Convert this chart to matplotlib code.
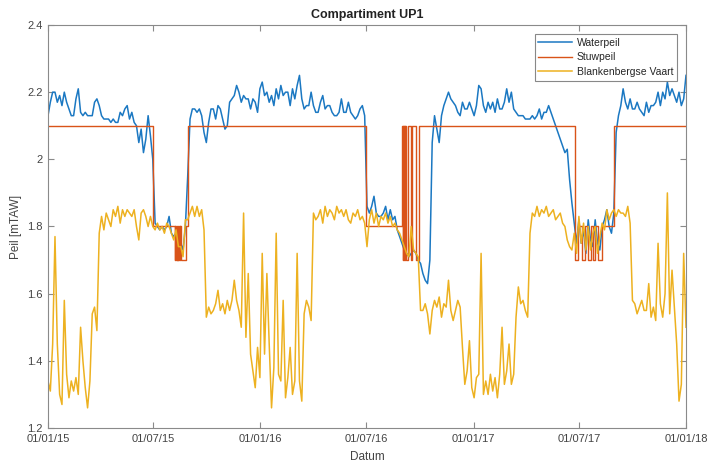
import numpy as np
import pandas as pd
import matplotlib
matplotlib.use('Agg')
import matplotlib.pyplot as plt
import matplotlib.dates as mdates

plt.rcParams['font.family'] = ['Liberation Sans', 'DejaVu Sans']

start_date = '2015-01-01'
step = '4D'

waterpeil = [
    2.13, 2.17, 2.20, 2.20, 2.17, 2.19, 2.16, 2.20, 2.17, 2.15,
    2.13, 2.13, 2.18, 2.21, 2.14, 2.13, 2.14, 2.13, 2.13, 2.13,
    2.17, 2.18, 2.16, 2.13, 2.12, 2.12, 2.12, 2.11, 2.12, 2.11,
    2.11, 2.14, 2.13, 2.15, 2.16, 2.12, 2.14, 2.11, 2.10, 2.05,
    2.09, 2.02, 2.06, 2.13, 2.07, 2.00, 1.81, 1.80, 1.79, 1.80,
    1.79, 1.80, 1.83, 1.78, 1.77, 1.78, 1.74, 1.75, 1.73, 1.80,
    1.95, 2.12, 2.15, 2.15, 2.14, 2.15, 2.13, 2.08, 2.05, 2.11,
    2.15, 2.15, 2.12, 2.16, 2.15, 2.12, 2.09, 2.10, 2.17, 2.18,
    2.19, 2.22, 2.20, 2.17, 2.19, 2.18, 2.18, 2.15, 2.18, 2.17,
    2.14, 2.21, 2.23, 2.19, 2.20, 2.17, 2.19, 2.16, 2.21, 2.18,
    2.22, 2.19, 2.20, 2.20, 2.16, 2.21, 2.18, 2.22, 2.25, 2.18,
    2.15, 2.16, 2.16, 2.20, 2.16, 2.14, 2.14, 2.17, 2.19, 2.15,
    2.16, 2.16, 2.14, 2.13, 2.13, 2.14, 2.18, 2.14, 2.14, 2.17,
    2.14, 2.13, 2.12, 2.13, 2.15, 2.16, 2.13, 1.86, 1.84, 1.86,
    1.89, 1.84, 1.83, 1.83, 1.84, 1.86, 1.82, 1.85, 1.82, 1.83,
    1.79, 1.77, 1.75, 1.73, 1.72, 1.71, 1.72, 1.73, 1.72, 1.70,
    1.69, 1.66, 1.64, 1.63, 1.70, 2.05, 2.13, 2.09, 2.05, 2.13,
    2.16, 2.18, 2.20, 2.18, 2.17, 2.16, 2.14, 2.13, 2.17, 2.15,
    2.15, 2.17, 2.15, 2.13, 2.16, 2.22, 2.21, 2.16, 2.14, 2.17,
    2.15, 2.17, 2.14, 2.18, 2.15, 2.15, 2.17, 2.21, 2.17, 2.20,
    2.15, 2.14, 2.13, 2.13, 2.13, 2.12, 2.12, 2.12, 2.13, 2.12,
    2.13, 2.15, 2.12, 2.14, 2.14, 2.16, 2.14, 2.12, 2.10, 2.08,
    2.06, 2.04, 2.02, 2.03, 1.94, 1.87, 1.81, 1.75, 1.82, 1.75,
    1.79, 1.72, 1.82, 1.76, 1.74, 1.82, 1.75, 1.73, 1.80, 1.82,
    1.85, 1.80, 1.78, 1.84, 2.08, 2.13, 2.16, 2.21, 2.17, 2.15,
    2.18, 2.15, 2.15, 2.17, 2.15, 2.14, 2.13, 2.17, 2.14, 2.16,
    2.16, 2.17, 2.20, 2.16, 2.20, 2.18, 2.23, 2.19, 2.21, 2.19,
    2.17, 2.20, 2.16, 2.18, 2.25,
]

blankenbergse_vaart = [
    1.34, 1.31, 1.45, 1.77, 1.45, 1.30, 1.27, 1.58, 1.36, 1.29,
    1.34, 1.31, 1.35, 1.30, 1.50, 1.40, 1.32, 1.26, 1.34, 1.54,
    1.56, 1.49, 1.78, 1.83, 1.79, 1.84, 1.82, 1.80, 1.85, 1.83,
    1.86, 1.81, 1.85, 1.83, 1.85, 1.84, 1.83, 1.85, 1.80, 1.76,
    1.84, 1.85, 1.83, 1.80, 1.83, 1.80, 1.79, 1.81, 1.79, 1.80,
    1.78, 1.81, 1.80, 1.78, 1.76, 1.79, 1.74, 1.74, 1.71, 1.82,
    1.82, 1.84, 1.86, 1.83, 1.86, 1.83, 1.85, 1.79, 1.53, 1.56,
    1.54, 1.55, 1.57, 1.61, 1.55, 1.57, 1.54, 1.58, 1.55, 1.58,
    1.64, 1.58, 1.55, 1.50, 1.84, 1.47, 1.66, 1.42, 1.37, 1.32,
    1.44, 1.35, 1.72, 1.42, 1.66, 1.45, 1.26, 1.38, 1.78, 1.36,
    1.34, 1.58, 1.29, 1.35, 1.44, 1.30, 1.34, 1.72, 1.34, 1.28,
    1.54, 1.58, 1.56, 1.52, 1.84, 1.82, 1.83, 1.85, 1.81, 1.86,
    1.83, 1.85, 1.84, 1.82, 1.86, 1.84, 1.85, 1.83, 1.85, 1.82,
    1.81, 1.84, 1.83, 1.85, 1.82, 1.83, 1.81, 1.74, 1.82, 1.85,
    1.81, 1.84, 1.80, 1.83, 1.82, 1.84, 1.81, 1.83, 1.80, 1.81,
    1.79, 1.78, 1.76, 1.74, 1.72, 1.71, 1.80, 1.73, 1.72, 1.71,
    1.55, 1.55, 1.57, 1.54, 1.48, 1.55, 1.58, 1.56, 1.59, 1.53,
    1.57, 1.56, 1.64, 1.55, 1.52, 1.55, 1.58, 1.56, 1.44, 1.33,
    1.37, 1.46, 1.32, 1.29, 1.35, 1.36, 1.72, 1.30, 1.34, 1.30,
    1.36, 1.31, 1.35, 1.29, 1.36, 1.50, 1.33, 1.37, 1.45, 1.33,
    1.36, 1.53, 1.62, 1.57, 1.58, 1.55, 1.53, 1.78, 1.84, 1.83,
    1.86, 1.83, 1.85, 1.84, 1.86, 1.83, 1.84, 1.85, 1.82, 1.83,
    1.84, 1.81, 1.80, 1.76, 1.74, 1.73, 1.78, 1.72, 1.83, 1.75,
    1.81, 1.73, 1.80, 1.73, 1.78, 1.80, 1.72, 1.77, 1.81, 1.79,
    1.85, 1.82, 1.84, 1.85, 1.83, 1.85, 1.84, 1.84, 1.83, 1.86,
    1.81, 1.58, 1.57, 1.54, 1.56, 1.58, 1.55, 1.55, 1.63, 1.53,
    1.56, 1.52, 1.75, 1.57, 1.53, 1.60, 1.90, 1.54, 1.67, 1.56,
    1.45, 1.28, 1.33, 1.72, 1.50,
]

# Stuwpeil: datum waarop het peil wijzigt en het nieuwe peil
stuw_dates = [
    '2015-01-01', '2015-07-01',
    '2015-08-07', '2015-08-08', '2015-08-09', '2015-08-10', '2015-08-11', '2015-08-12',
    '2015-08-13', '2015-08-14', '2015-08-15', '2015-08-16', '2015-08-17',
    '2015-08-26', '2015-08-30',
    '2016-07-01',
    '2016-08-31', '2016-09-01', '2016-09-02', '2016-09-03', '2016-09-04', '2016-09-05',
    '2016-09-06', '2016-09-07',
    '2016-09-10', '2016-09-15', '2016-09-18', '2016-09-25', '2016-09-30',
    '2017-06-24', '2017-06-30', '2017-07-07', '2017-07-12', '2017-07-17', '2017-07-21',
    '2017-07-25', '2017-07-29', '2017-08-03', '2017-08-09',
    '2017-08-30', '2018-01-01',
]
stuw_levels = [
    2.1, 1.8,
    1.7, 1.8, 1.7, 1.8, 1.7, 1.8,
    1.7, 1.8, 1.7, 1.8, 1.7,
    1.8, 2.1,
    1.8,
    2.1, 1.7, 2.1, 1.7, 2.1, 1.7,
    2.1, 1.7,
    2.1, 1.7, 2.1, 1.7, 2.1,
    1.7, 1.8, 1.7, 1.8, 1.7, 1.8,
    1.7, 1.8, 1.7, 1.8,
    2.1, 2.1,
]

xtick_dates = ['2015-01-01', '2015-07-01', '2016-01-01', '2016-07-01', '2017-01-01',
               '2017-07-01', '2018-01-01']
ytick_values = [1.2, 1.4, 1.6, 1.8, 2.0, 2.2, 2.4]
ytick_labels = ['1.2', '1.4', '1.6', '1.8', '2', '2.2', '2.4']


def show_data():
    dates = pd.date_range(start_date, periods=len(waterpeil), freq=step)
    stuw_x = pd.to_datetime(stuw_dates)

    fig = plt.figure(figsize=(7.08, 4.63), dpi=100)
    ax = fig.add_axes([48 / 708, 35 / 463, 638 / 708, 403 / 463])

    ax.plot(dates, waterpeil, color='#1b78c2', lw=1.1, label='Waterpeil')
    ax.plot(stuw_x, stuw_levels, color='#D95319', lw=1.0, drawstyle='steps-post', label='Stuwpeil')
    ax.plot(dates, blankenbergse_vaart, color='#EDB120', lw=1.1, label='Blankenbergse Vaart')

    ax.set_xlim(pd.Timestamp('2015-01-01'), pd.Timestamp('2018-01-01'))
    ax.set_ylim(1.2, 2.4)
    ax.set_xticks(pd.to_datetime(xtick_dates))
    ax.xaxis.set_major_formatter(mdates.DateFormatter('%d/%m/%y'))
    ax.set_yticks(ytick_values)
    ax.set_yticklabels(ytick_labels)

    axis_grey = '#8a8a8a'
    text_grey = '#444444'
    for spine in ax.spines.values():
        spine.set_color(axis_grey)
        spine.set_linewidth(0.8)
    ax.tick_params(direction='in', length=4, width=0.8, color=axis_grey,
                   labelcolor=text_grey, labelsize=8, top=True, right=True, pad=4)

    ax.set_title('Compartiment UP1', fontsize=9, fontweight='bold', color='#222222', pad=5)
    ax.set_xlabel('Datum', fontsize=8.5, color=text_grey)
    ax.set_ylabel('Peil [mTAW]', fontsize=8.5, color=text_grey)
    ax.xaxis.set_label_coords(0.5, -0.058)
    ax.yaxis.set_label_coords(-0.041, 0.5)

    leg = ax.legend(loc='upper right', bbox_to_anchor=(0.986, 0.978), fontsize=7.5,
                    frameon=True, fancybox=False, handlelength=3.2, handletextpad=0.5,
                    borderpad=0.35, labelspacing=0.45, borderaxespad=0)
    leg.get_frame().set_edgecolor('#6a6a6a')
    leg.get_frame().set_linewidth(0.8)
    for t in leg.get_texts():
        t.set_color('#262626')

    fig.savefig('out.png', dpi=100)


if __name__ == '__main__':
    show_data()
